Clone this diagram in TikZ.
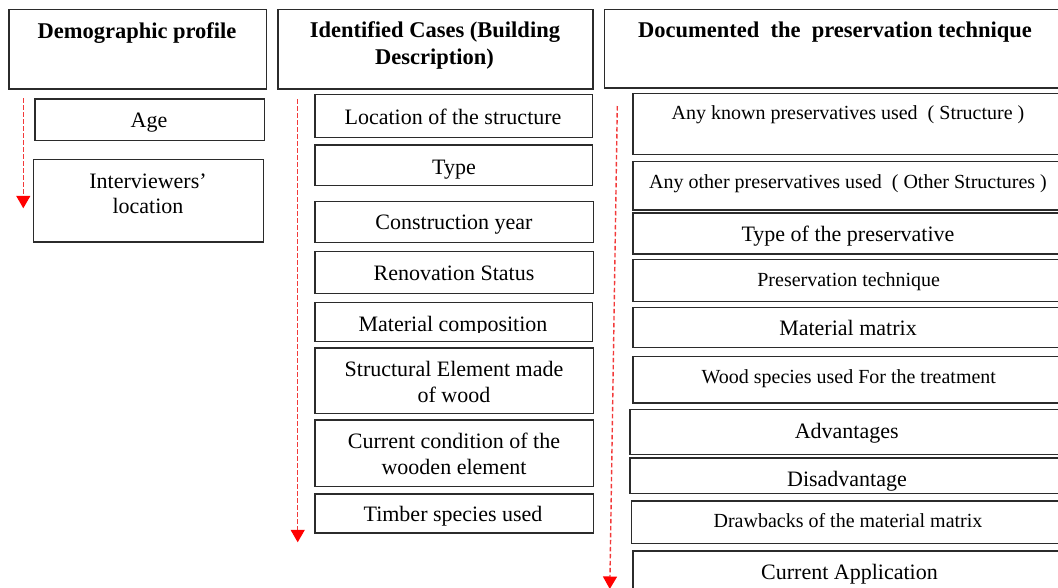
\documentclass[tikz,border=0pt]{standalone}
\usepackage{fontspec}
\setmainfont{Liberation Serif}
\usetikzlibrary{arrows.meta}
\definecolor{boxline}{HTML}{2B2B2B}
\definecolor{arrred}{HTML}{F23A3A}
\tikzset{
  box/.style={draw=boxline, line width=1.2pt, rectangle, inner sep=0pt},
  hd/.style={anchor=base, inner sep=0pt, font=\fontsize{22.5}{27}\selectfont\bfseries},
  tx/.style={anchor=base, inner sep=0pt, font=\fontsize{22}{26}\selectfont},
  txs/.style={anchor=base, inner sep=0pt, font=\fontsize{20}{24}\selectfont},
  flow/.style={draw=arrred, line width=1.4pt, dash pattern=on 4.5pt off 2.5pt,
    -{Triangle[length=12.5pt,width=14pt,fill=red,color=red]}},
}
\newcommand{\bx}[5]{\node[box, anchor=north west, minimum width=#4-#2, minimum height=#5-#3] (#1) at (#2,#3) {};}
\begin{document}
\begin{tikzpicture}[x=1pt,y=-1pt]
\useasboundingbox (0,0) rectangle (1058,587);
% Column 1
\bx{h1}{8.3}{9}{266}{88.3}
\node[hd] (h1t) at (137,38.3) {Demographic profile};
\bx{b11}{34.3}{98.3}{264}{140}
\node[tx] (b11t) at (149,127.7) {Age};
\bx{b12}{33}{158.7}{262.7}{241.3}
\node[tx] (b12t) at (148,188.3) {Interviewers’};
\node[tx] (b12u) at (148,213.3) {location};
\coordinate (a1s) at (23.3,98.3);
\coordinate (a1e) at (23.3,208.3);
\draw[flow] (a1s) -- (a1e);
% Column 2
\bx{h2}{277.3}{9}{592.3}{88.3}
\node[hd] (h2t) at (435,37.7) {Identified Cases (Building};
\node[hd] (h2u) at (434.5,64) {Description)};
\bx{b21}{314.3}{94}{592}{136.7}
\node[tx] (b21t) at (453,124) {Location of the structure};
\bx{b22}{314.3}{144.3}{592}{185}
\node[tx] (b22t) at (454,174) {Type};
\bx{b23}{314.3}{200.7}{593}{241.7}
\node[tx] (b23t) at (454,229.3) {Construction year};
\bx{b24}{314.3}{250.7}{593}{292.7}
\node[tx] (b24t) at (454,280) {Renovation Status};
\bx{b25}{314.3}{301.7}{592}{341}
\begin{scope}
\clip (314,301) rectangle (592,332.5);
\node[tx] (b25t) at (453,331) {Material composition};
\end{scope}
\bx{b26}{314.3}{347.3}{592.5}{412.7}
\node[tx] (b26t) at (454,376.7) {Structural Element made};
\node[tx] (b26u) at (454,402.3) {of wood};
\bx{b27}{314.3}{419.3}{592.5}{485.7}
\node[tx] (b27t) at (454,448.3) {Current condition of the};
\node[tx] (b27u) at (454,474.3) {wooden element};
\bx{b28}{314.3}{493.3}{592.5}{532.3}
\node[tx] (b28t) at (453,521.7) {Timber species used};
\coordinate (a2s) at (297.7,99.3);
\coordinate (a2e) at (297.7,542.3);
\draw[flow] (a2s) -- (a2e);
% Column 3
\bx{h3}{604}{9}{1070}{87.3}
\node[hd] (h3t) at (835,37.7) {Documented\ \ the\ \ preservation technique};
\bx{b31}{632.3}{92.7}{1070}{153.7}
\node[txs] (b31t) at (848,119.3) {Any known preservatives used\ \ ( Structure )};
\bx{b32}{632.3}{160.7}{1070}{209.3}
\node[txs] (b32t) at (848,188.3) {Any other preservatives used\ \ ( Other Structures )};
\bx{b33}{632.3}{212.3}{1070}{253.3}
\node[tx] (b33t) at (848,241.7) {Type of the preservative};
\bx{b34}{632.3}{258.7}{1070}{300.7}
\node[txs] (b34t) at (848.7,286) {Preservation technique};
\bx{b35}{632.3}{306.7}{1070}{347}
\node[tx] (b35t) at (848,335.7) {Material matrix};
\bx{b36}{632.3}{355.7}{1070}{402.3}
\node[txs] (b36t) at (848.8,383.3) {Wood species used For the treatment};
\bx{b37}{629.3}{409}{1070}{454}
\node[tx] (b37t) at (846.7,438.3) {Advantages};
\bx{b38}{629.3}{457.3}{1070}{492.7}
\node[tx] (b38t) at (847,486) {Disadvantage};
\bx{b39}{631}{500.3}{1070}{543}
\node[txs] (b39t) at (848,527.3) {Drawbacks of the material matrix};
\bx{b310}{632.3}{550.3}{1070}{610}
\node[tx] (b310t) at (849.5,579.3) {Current Application};
\coordinate (a3s) at (617.3,106);
\coordinate (a3e) at (609.8,589);
\draw[flow] (a3s) -- (a3e);
\end{tikzpicture}
\end{document}
